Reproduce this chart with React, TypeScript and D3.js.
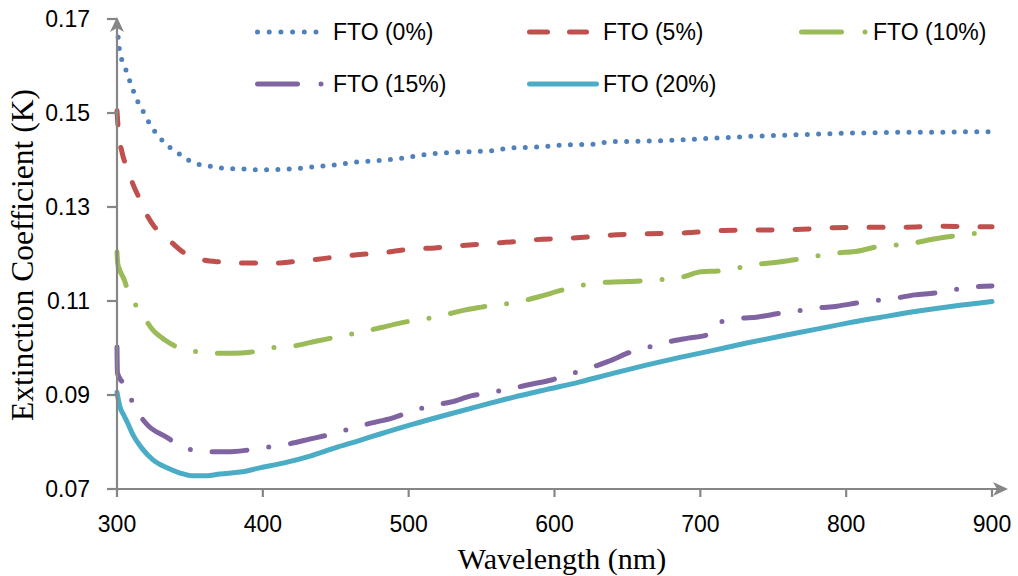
import React from "react";
import * as d3 from "d3";

type Pt = [number, number];

const xTicks = [300, 400, 500, 600, 700, 800, 900];
const yTicks = [0.07, 0.09, 0.11, 0.13, 0.15, 0.17];
const seriesNames = ["FTO (0%)", "FTO (5%)", "FTO (10%)", "FTO (15%)", "FTO (20%)"];
const seriesColors = ["#4F81BD", "#C0504D", "#9BBB59", "#8064A2", "#4BACC6"];

const fto0: Pt[] = [
  [300, 0.1685], [301, 0.1655], [302, 0.1626], [304.8, 0.1604], [307.5, 0.1579], [310.3, 0.1555],
  [313, 0.1532], [317, 0.1509], [320.6, 0.1487], [324.7, 0.1466], [329.5, 0.1447], [335.7, 0.1428],
  [341.8, 0.1415], [348.7, 0.1400], [355.6, 0.1391], [363.8, 0.1387], [371.3, 0.1383], [385, 0.1381],
  [400, 0.1379], [420, 0.1381], [434, 0.1385], [450, 0.1390], [465, 0.1396], [480, 0.1399],
  [496, 0.1404], [512, 0.1412], [535, 0.1417], [559, 0.1420], [568, 0.1425], [590, 0.1428],
  [606, 0.1432], [629, 0.1434], [637, 0.1439], [660, 0.1440], [680, 0.1442], [700, 0.1445],
  [720, 0.1448], [740, 0.1451], [760, 0.1453], [780, 0.1455], [800, 0.1457], [820, 0.1458],
  [840, 0.1459], [860, 0.1459], [880, 0.1460], [900, 0.1460],
];

const fto5: Pt[] = [
  [300, 0.1505], [301, 0.146], [303.4, 0.1417], [307.5, 0.1379], [311, 0.1348], [315.8, 0.1315],
  [317.8, 0.1300], [324.7, 0.1262], [334.3, 0.1234], [345.3, 0.1204], [356.9, 0.1189], [370.6, 0.1183],
  [384, 0.1181], [398, 0.1181], [412, 0.1181], [424, 0.1185], [438, 0.1189], [451, 0.1194],
  [463, 0.1198], [480, 0.1202], [504, 0.1211], [518, 0.1213], [532, 0.1217], [559, 0.1223],
  [572, 0.1226], [585, 0.1230], [612, 0.1234], [626, 0.1237], [638, 0.1240], [664, 0.1243],
  [690, 0.1245], [716, 0.1250], [741, 0.1251], [766, 0.1252], [791, 0.1256], [816, 0.1257],
  [839, 0.1257], [864, 0.1259], [888, 0.1258], [900, 0.1258],
];

const fto10: Pt[] = [
  [300, 0.1204], [300.5, 0.1180], [302, 0.1165], [305, 0.1145], [307.5, 0.1121], [315.8, 0.1079],
  [324.7, 0.1038], [332.9, 0.1017], [339.8, 0.1004], [348.7, 0.0996], [363.8, 0.0989], [379.6, 0.0989],
  [391.2, 0.0991], [404.9, 0.1000], [420.7, 0.1004], [437.2, 0.1015], [464.6, 0.1032], [480.4, 0.1043],
  [494, 0.1053], [521.5, 0.1068], [536, 0.1079], [550, 0.1087], [577.8, 0.1100], [591.5, 0.1111],
  [605, 0.1123], [631, 0.1139], [646, 0.1141], [660, 0.1143], [687.5, 0.1151], [700.5, 0.1162],
  [713.6, 0.1164], [741, 0.1179], [754, 0.1183], [767, 0.1189], [793.8, 0.1202], [807.5, 0.1206],
  [820.6, 0.1215], [846, 0.1223], [860, 0.1232], [873, 0.1238], [900, 0.1247],
];

const fto15: Pt[] = [
  [300, 0.1002], [300.3, 0.0947], [302, 0.0935], [305.5, 0.0921], [311.7, 0.0877], [321, 0.0836],
  [333, 0.0812], [344.6, 0.0791], [359.7, 0.0779], [375.4, 0.0779], [390, 0.0783], [403, 0.0789],
  [418, 0.0796], [432, 0.0806], [446, 0.0816], [460, 0.0828], [474, 0.0840], [488.6, 0.0851],
  [501, 0.0864], [514.7, 0.0877], [529, 0.0885], [542.8, 0.0898], [556, 0.0905], [569.5, 0.0913],
  [584, 0.0923], [598, 0.0932], [611, 0.0945], [623.7, 0.0957], [637.4, 0.0972], [651.9, 0.0991],
  [665, 0.1002], [677.9, 0.1013], [691.6, 0.1021], [704.7, 0.1028], [708, 0.1040], [711.5, 0.1053],
  [725, 0.1062], [739.6, 0.1066], [754.7, 0.1074], [767, 0.1079], [780, 0.1085], [793.8, 0.1089],
  [808, 0.1096], [821, 0.1101], [833.6, 0.1106], [847, 0.1113], [861, 0.1117], [874, 0.1124],
  [887, 0.1130], [900, 0.1132],
];

const fto20: Pt[] = [
  [300, 0.0906], [302, 0.0875], [304.5, 0.0858], [306.9, 0.0843], [311, 0.0815], [317, 0.0787],
  [324.7, 0.0762], [334.3, 0.0745], [343.2, 0.0734], [352, 0.0728], [361.7, 0.0728], [370.6, 0.0732],
  [384.4, 0.0736], [398, 0.0745], [413.9, 0.0755], [432.4, 0.0770], [450, 0.0788], [465, 0.0802],
  [480.4, 0.0817], [503, 0.0838], [526.3, 0.0858], [549, 0.0877], [571.6, 0.0895], [595, 0.0912],
  [617.6, 0.0928], [640, 0.0946], [663.5, 0.0964], [686, 0.0980], [708.8, 0.0995], [731, 0.1010],
  [754.7, 0.1025], [778, 0.1039], [800.7, 0.1053], [823, 0.1065], [846, 0.1077], [873, 0.1089],
  [900, 0.1099],
];

const seriesData = [fto0, fto5, fto10, fto15, fto20];
const dashes = ["0 11.3", "14 23", "35 22 0 22", "35 22 0 22", ""];

const W = 1018;
const H = 576;
const X0 = 117;
const X1 = 992;
const Y0 = 489;
const Y1 = 19;
const AXIS = "#868686";
const SANS = "'Liberation Sans', Arial, sans-serif";
const SERIF = "'Liberation Serif', 'Times New Roman', serif";

export default function App() {
  const x = d3.scaleLinear().domain([300, 900]).range([X0, X1]);
  const y = d3.scaleLinear().domain([0.07, 0.17]).range([Y0, Y1]);
  const line = d3
    .line<Pt>()
    .x((d) => x(d[0]))
    .y((d) => y(d[1]))
    .curve(d3.curveMonotoneX);

  const legendRows = [
    { tx: 333, ty: 32 },
    { tx: 603, ty: 32 },
    { tx: 873, ty: 32 },
    { tx: 333, ty: 84 },
    { tx: 603, ty: 84 },
  ];

  const legendMarker = (i: number, ty: number) => {
    const c = seriesColors[i];
    const common = { stroke: c, strokeWidth: 5, strokeLinecap: "round" as const, fill: "none" };
    if (i === 0) {
      return <line x1={257.5} x2={316} y1={ty} y2={ty} {...common} strokeDasharray="0 11.7" />;
    }
    if (i === 1) {
      return (
        <g>
          <line x1={529.5} x2={547.5} y1={ty} y2={ty} {...common} />
          <line x1={569.5} x2={586.5} y1={ty} y2={ty} {...common} />
        </g>
      );
    }
    if (i === 2 || i === 3) {
      const a = i === 2 ? 801.5 : 257.5;
      return (
        <g>
          <line x1={a} x2={a + 40} y1={ty} y2={ty} {...common} />
          <line x1={a + 63.5} x2={a + 63.5} y1={ty} y2={ty} {...common} />
        </g>
      );
    }
    return <line x1={529.5} x2={596.5} y1={ty} y2={ty} {...common} />;
  };

  return (
    <svg
      width={W}
      height={H}
      viewBox={`0 0 ${W} ${H}`}
      style={{ position: "absolute", left: 0, top: 0, background: "#fff" }}
    >
      <rect x={0} y={0} width={W} height={H} fill="#fff" />

      {/* series */}
      {seriesData.map((d, i) => (
        <path
          key={i}
          d={line(d) || ""}
          fill="none"
          stroke={seriesColors[i]}
          strokeWidth={5}
          strokeLinecap="round"
          strokeLinejoin="round"
          strokeDasharray={dashes[i] || undefined}
        />
      ))}

      {/* axes */}
      <g stroke={AXIS} strokeWidth={2.2} fill="none">
        <line x1={X0} x2={X0} y1={Y0} y2={Y1 + 8} />
        <line x1={X0 - 9} x2={1000} y1={Y0} y2={Y0} />
        {yTicks.map((t) => (
          <line key={t} x1={X0 - 10} x2={X0} y1={y(t)} y2={y(t)} />
        ))}
        {xTicks.map((t) => (
          <line key={t} x1={x(t)} x2={x(t)} y1={Y0} y2={Y0 + 8} />
        ))}
      </g>
      <path
        d={`M${X0},${Y1 - 2} L${X0 + 7},${Y1 + 13} L${X0},${Y1 + 9} L${X0 - 7},${Y1 + 13} Z`}
        fill={AXIS}
      />
      <path
        d={`M1008,${Y0} L993,${Y0 - 7} L997,${Y0} L993,${Y0 + 7} Z`}
        fill={AXIS}
      />

      {/* tick labels */}
      {yTicks.map((t) => (
        <text
          key={t}
          x={90}
          y={y(t) + 8}
          textAnchor="end"
          fontFamily={SANS}
          fontSize={23}
          fill="#000"
        >
          {t.toFixed(2)}
        </text>
      ))}
      {xTicks.map((t) => (
        <text
          key={t}
          x={x(t)}
          y={532}
          textAnchor="middle"
          fontFamily={SANS}
          fontSize={23}
          fill="#000"
        >
          {t}
        </text>
      ))}

      {/* axis titles */}
      <text x={562} y={569} textAnchor="middle" fontFamily={SERIF} fontSize={30} fill="#000">
        Wavelength (nm)
      </text>
      <text
        transform={`translate(33,255) rotate(-90)`}
        textAnchor="middle"
        fontFamily={SERIF}
        fontSize={31.5}
        fill="#000"
      >
        Extinction Coefficient (K)
      </text>

      {/* legend */}
      {seriesNames.map((n, i) => (
        <g key={n}>
          {legendMarker(i, legendRows[i].ty)}
          <text
            x={legendRows[i].tx}
            y={legendRows[i].ty + 8}
            fontFamily={SANS}
            fontSize={23}
            fill="#000"
          >
            {n}
          </text>
        </g>
      ))}
    </svg>
  );
}
